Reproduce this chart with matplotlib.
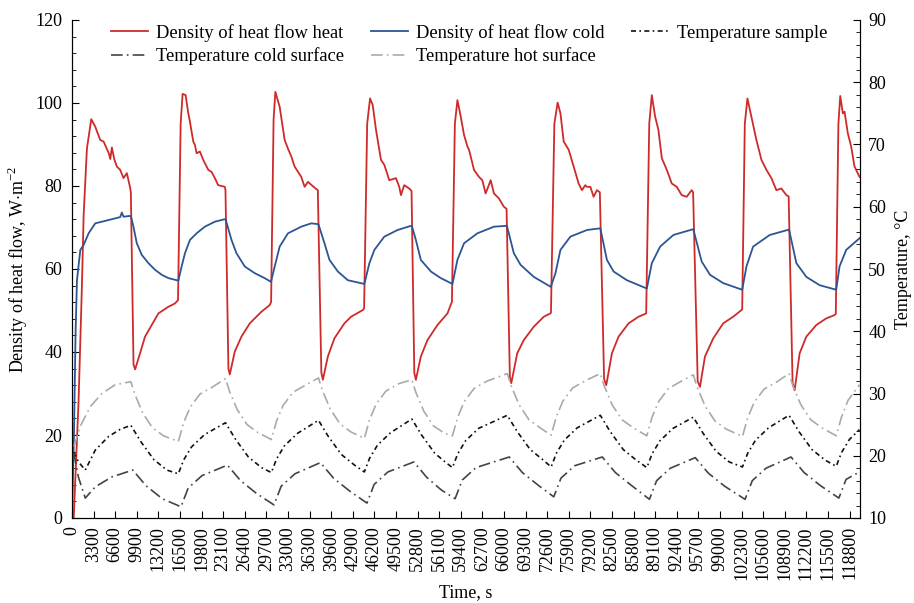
import matplotlib
matplotlib.use("Agg")
import matplotlib.pyplot as plt

plt.rcParams['font.family'] = ['Liberation Serif', 'DejaVu Serif']
plt.rcParams['mathtext.fontset'] = 'custom'
plt.rcParams['mathtext.rm'] = 'Liberation Serif'
plt.rcParams['font.size'] = 13

# ---------- data (time in s) ----------
t_heat = [0, 260, 1000, 1500, 1780, 2280, 2940, 3550, 4310, 4830, 5590, 5850, 6090, 6450, 6850, 7360, 7870, 8380, 8880, 8990,
          9400, 9640, 10400, 11160, 12180, 13200, 14730, 15730, 16200,
          16600, 16900, 17360, 17770, 18020, 18530, 18780, 19040, 19540, 20050, 20820, 21320, 21830, 22330, 23350, 23450,
          23900, 24110, 24870, 25890, 27160, 28940, 30200, 30420,
          30800, 31070, 31730, 32490, 33000, 33510, 34010, 35030, 35540, 36050, 37060, 37560,
          38100, 38330, 39090, 40100, 41620, 42640, 44420, 44630,
          45100, 45540, 45950, 46450, 47210, 47720, 48480, 49500, 50000, 50260, 50760, 51520, 51880,
          52300, 52540, 53300, 54320, 55840, 57370, 58050,
          58500, 58890, 59400, 59900, 60420, 60670, 61420, 62180, 62690, 63200, 63970, 64470, 65230, 65990, 66400,
          66900, 67120, 68030, 69040, 70560, 72090, 73100, 73180,
          73700, 74200, 74630, 75130, 75900, 76650, 77410, 77920, 78430, 78690, 79200, 79700, 80210, 80650,
          81300, 81630, 82500, 83510, 85040, 86560, 87730,
          88200, 88590, 89100, 89600, 90120, 90880, 91640, 92400, 93160, 93920, 94680, 94900,
          95600, 95950, 96710, 97980, 99500, 101020, 102290, 102400,
          102800, 103200, 103810, 104570, 105340, 106100, 106860, 107620, 108380, 109150, 109500,
          110100, 110410, 111180, 112200, 113720, 115250, 116510, 116700,
          117100, 117380, 117780, 118040, 118540, 119050, 119560, 120320]
q_heat = [0, 0, 28, 55, 73, 89, 96.1, 94.3, 91.1, 90.7, 88.0, 86.5, 89.3, 86.5, 84.7, 83.9, 81.9, 83.1, 79.6, 78.5,
          37, 35.8, 39.7, 43.7, 46.5, 49.3, 50.9, 51.7, 52.5,
          95, 102.2, 101.9, 97.5, 95.5, 90.7, 89.9, 87.9, 88.3, 86.3, 83.9, 83.4, 81.9, 80.2, 79.8, 79,
          36, 34.6, 40.1, 43.7, 46.9, 49.7, 51.3, 52,
          96, 102.7, 99.1, 91.1, 89.0, 87.1, 84.7, 82.2, 79.8, 81.0, 79.6, 79.0,
          35, 33.3, 38.9, 43.3, 46.9, 48.5, 50.1, 50.5,
          95, 101.1, 99.5, 93.5, 86.3, 85.1, 81.4, 81.9, 79.8, 77.8, 80.2, 79.4, 78.8,
          35, 33.3, 38.9, 42.9, 46.5, 49.3, 52.1,
          95, 100.7, 96.7, 92.3, 89.5, 88.7, 83.9, 82.2, 81.4, 78.2, 81.4, 78.2, 77.0, 75.0, 74.5,
          34, 32.5, 39.7, 42.9, 46.1, 48.5, 49.3, 49.5,
          95, 100.1, 97.5, 90.7, 88.7, 84.7, 80.6, 79.0, 80.2, 79.8, 79.8, 77.4, 79.0, 78.5,
          33.5, 32.0, 39.7, 43.7, 46.9, 48.5, 49.3,
          95, 101.9, 96.7, 93.5, 86.7, 83.9, 80.6, 79.8, 77.8, 77.4, 79.0, 78.5,
          33, 31.6, 38.9, 43.3, 46.9, 48.5, 50.1, 50.3,
          95, 101.1, 96.7, 91.1, 86.3, 83.9, 81.9, 79.0, 79.4, 77.8, 77.5,
          32.5, 30.8, 39.7, 43.7, 46.5, 48.1, 48.9, 49.2,
          95, 101.7, 97.5, 97.9, 92.7, 89.5, 84.7, 82.2]

t_cold = [0, 300, 550, 760, 1270, 1780, 2540, 3550, 4570, 5590, 6600, 7360, 7620, 7870, 8880, 9050,
          9390, 9900, 10660, 11680, 12690, 13710, 14730, 16000, 16250,
          16750, 17260, 18020, 19040, 20300, 21830, 23350, 23500,
          24370, 25130, 26400, 27920, 29440, 30400,
          30970, 31730, 33000, 35030, 36550, 37650,
          38580, 39340, 40620, 42140, 44670,
          45440, 46200, 47720, 49750, 51780, 51950,
          52540, 53300, 54830, 56350, 58130,
          58890, 59900, 61940, 64470, 66450,
          67510, 68540, 70560, 73150,
          73870, 74630, 76150, 78690, 80720,
          81730, 82750, 84780, 87830,
          88590, 89860, 91890, 94930,
          96210, 97480, 99500, 102400,
          103050, 104070, 106610, 109560,
          110680, 112200, 114230, 116770,
          117270, 118290, 120320]
q_cold = [0, 20, 45, 57.3, 64.6, 65.8, 68.6, 71.0, 71.4, 71.8, 72.2, 72.5, 73.6, 72.6, 72.8, 72.4,
          70.2, 66.2, 63.4, 61.4, 59.8, 58.6, 57.8, 57.3, 57.2,
          60.6, 63.8, 67.0, 68.6, 70.2, 71.4, 72.0, 71.8,
          67.0, 63.8, 60.6, 59.0, 57.8, 56.9,
          60.6, 65.4, 68.6, 70.2, 71.0, 70.8,
          66.2, 62.2, 59.4, 57.3, 56.4,
          61.4, 64.6, 67.8, 69.4, 70.4, 70.3,
          67.0, 62.2, 59.4, 57.8, 56.4,
          62.2, 66.2, 68.6, 70.2, 70.4,
          63.8, 61.0, 58.1, 55.7,
          59.0, 64.6, 67.8, 69.4, 69.8,
          62.2, 59.4, 57.3, 55.3,
          61.4, 65.4, 68.2, 69.6,
          61.8, 58.6, 56.6, 55.0,
          60.6, 65.4, 68.2, 69.5,
          61.4, 58.1, 56.1, 55.0,
          60.6, 64.6, 67.4]

t_hot = [300, 1300, 2790, 4570, 6600, 8990,
         9590, 10790, 12290, 13990, 16250,
         17050, 18050, 19550, 21550, 23450,
         24050, 25250, 26750, 28450, 30460,
         31260, 32260, 33760, 35760, 37660,
         38260, 39460, 40960, 42660, 44670,
         45470, 46470, 47970, 49970, 51930,
         52530, 53730, 55230, 56930, 58130,
         58930, 59930, 61430, 63430, 66510,
         67110, 68310, 69810, 71510, 73210,
         74010, 75010, 76510, 78510, 80720,
         81320, 82520, 84020, 85720, 87830,
         88630, 89630, 91130, 93130, 94930,
         95530, 96730, 98230, 99930, 102440,
         103240, 104240, 105740, 107740, 109560,
         110160, 111360, 112860, 114560, 116770,
         117570, 118570, 120320]
T_hot = [21.5, 24.8, 27.9, 30.0, 31.4, 31.9,
         29.9, 26.9, 24.5, 23.2, 22.3,
         25.3, 27.8, 29.9, 31.1, 32.4,
         30.4, 27.4, 25.0, 23.7, 22.6,
         25.6, 28.1, 30.2, 31.4, 32.5,
         30.5, 27.5, 25.1, 23.8, 22.8,
         25.8, 28.3, 30.4, 31.6, 32.2,
         30.2, 27.2, 24.8, 23.6, 23.2,
         26.2, 28.7, 30.8, 32.0, 33.2,
         31.2, 28.2, 25.8, 24.5, 23.3,
         26.3, 28.8, 30.9, 32.1, 33.2,
         31.2, 28.2, 25.8, 24.5, 23.2,
         26.2, 28.7, 30.8, 32.0, 33.0,
         31.0, 28.0, 25.6, 24.3, 23.1,
         26.1, 28.6, 30.7, 31.9, 33.2,
         31.2, 28.2, 25.8, 24.5, 23.2,
         26.2, 28.9, 31.4]

t_sample = [260, 1000, 2030, 3550, 5590, 7300, 8990,
            10490, 12490, 14490, 16250,
            17050, 18250, 20250, 23450,
            24950, 26950, 28950, 30460,
            31260, 32460, 34460, 37660,
            39160, 41160, 43160, 44670,
            45470, 46670, 48670, 51930,
            53430, 55430, 57130, 58130,
            58930, 60130, 62130, 66510,
            68010, 70010, 72010, 73210,
            74010, 75210, 77210, 80720,
            82220, 84220, 86220, 87830,
            88630, 89830, 91830, 94930,
            96430, 98430, 100430, 102440,
            103240, 104440, 106440, 109560,
            111060, 113060, 115060, 116770,
            117570, 118770, 120320]
T_sample = [20.6, 19.0, 17.7, 20.9, 23.1, 24.2, 24.9,
            22.3, 19.4, 17.7, 17.1,
            19.3, 21.4, 23.4, 25.3,
            22.7, 19.8, 18.1, 17.3,
            19.5, 21.6, 23.6, 25.7,
            23.1, 20.2, 18.5, 17.4,
            19.6, 21.7, 23.7, 25.9,
            23.3, 20.4, 18.9, 18.1,
            20.3, 22.4, 24.4, 26.5,
            23.9, 21.0, 19.3, 18.2,
            20.4, 22.5, 24.5, 26.5,
            23.9, 21.0, 19.3, 18.1,
            20.3, 22.4, 24.4, 26.2,
            23.6, 20.7, 19.0, 18.2,
            20.4, 22.5, 24.5, 26.5,
            23.9, 21.0, 19.3, 18.3,
            20.5, 22.6, 24.2]

t_csurf = [260, 1000, 2030, 3550, 6090, 9290,
           11290, 13790, 16650,
           17750, 19850, 23750,
           25750, 28250, 30860,
           31960, 34060, 37960,
           39960, 42460, 45070,
           46170, 48270, 52230,
           54230, 56430, 58530,
           59630, 61730, 66810,
           68810, 71310, 73610,
           74710, 76810, 81020,
           83020, 85520, 88230,
           89330, 91430, 95230,
           97230, 99730, 102840,
           103940, 106040, 109860,
           111860, 114360, 117170,
           118270, 120320]
T_csurf = [20.5, 16.5, 13.2, 15.0, 16.6, 17.7,
           15.2, 13.1, 11.8,
           14.8, 16.8, 18.5,
           16.0, 13.9, 12.1,
           15.1, 17.1, 18.9,
           16.4, 14.3, 12.4,
           15.4, 17.4, 19.0,
           16.5, 14.5, 13.1,
           16.1, 18.1, 19.8,
           17.3, 15.2, 13.4,
           16.4, 18.4, 19.8,
           17.3, 15.2, 13.0,
           16.0, 18.0, 19.7,
           17.2, 15.1, 13.0,
           16.0, 18.0, 19.8,
           17.3, 15.2, 13.2,
           16.2, 17.4]

x_ticks = list(range(0, 118801, 3300))

# ---------- plot ----------
fig = plt.figure(figsize=(9.14, 6.03), dpi=100)
ax = fig.add_axes([72 / 914, 1 - 518 / 603, (860 - 72) / 914, (518 - 20) / 603])
ax2 = ax.twinx()

l_heat, = ax.plot(t_heat, q_heat, color='#cf2a2a', lw=1.3)
l_cold, = ax.plot(t_cold, q_cold, color='#2d5592', lw=1.3)
l_samp, = ax2.plot(t_sample, T_sample, color='#111111', lw=1.2, ls=(0, (3, 2, 1, 2)))
l_csurf, = ax2.plot(t_csurf, T_csurf, color='#444444', lw=1.2, ls=(0, (7, 2.5, 1, 2.5)))
l_hot, = ax2.plot(t_hot, T_hot, color='#aaaaaa', lw=1.2, ls=(0, (7, 2.5, 1, 2.5)))

ax.set_xlim(0, 120400)
ax.set_ylim(0, 120)
ax2.set_ylim(10, 90)
ax.set_xticks(x_ticks)
ax.set_xticklabels([str(v) for v in x_ticks], rotation=90)
ax.set_yticks(range(0, 121, 20))
ax.set_yticks(range(0, 121, 4), minor=True)
ax2.set_yticks(range(10, 91, 10))
ax2.set_yticks(range(10, 91, 2), minor=True)

for a in (ax, ax2):
    a.spines['top'].set_visible(False)
ax.tick_params(axis='both', which='both', direction='in', top=False, right=False, labelsize=13)
ax.tick_params(axis='x', which='major', length=5, pad=6)
ax.tick_params(axis='y', which='major', length=5, pad=7)
ax.tick_params(axis='y', which='minor', length=3)
ax2.tick_params(axis='y', which='both', direction='in', labelsize=13)
ax2.tick_params(axis='y', which='major', length=5, pad=6)
ax2.tick_params(axis='y', which='minor', length=3)

ax.set_xlabel('Time, s', fontsize=13, labelpad=3)
ax.set_ylabel('Density of heat flow, W$\\cdot$m$^{-2}$', fontsize=13, labelpad=4)
ax2.set_ylabel('Temperature, \u00b0C', fontsize=13, labelpad=6)

handles = [l_heat, l_csurf, l_cold, l_hot, l_samp]
labels = ['Density of heat flow heat', 'Temperature cold surface',
          'Density of heat flow cold', 'Temperature hot surface',
          'Temperature sample']
fig.legend(handles, labels, ncol=3, loc='upper left', bbox_to_anchor=(0.111, 0.976),
           frameon=False, fontsize=13.3, handlelength=2.0, handletextpad=0.45,
           columnspacing=1.45, labelspacing=0.3, borderpad=0)

fig.savefig('out.png', dpi=100)
